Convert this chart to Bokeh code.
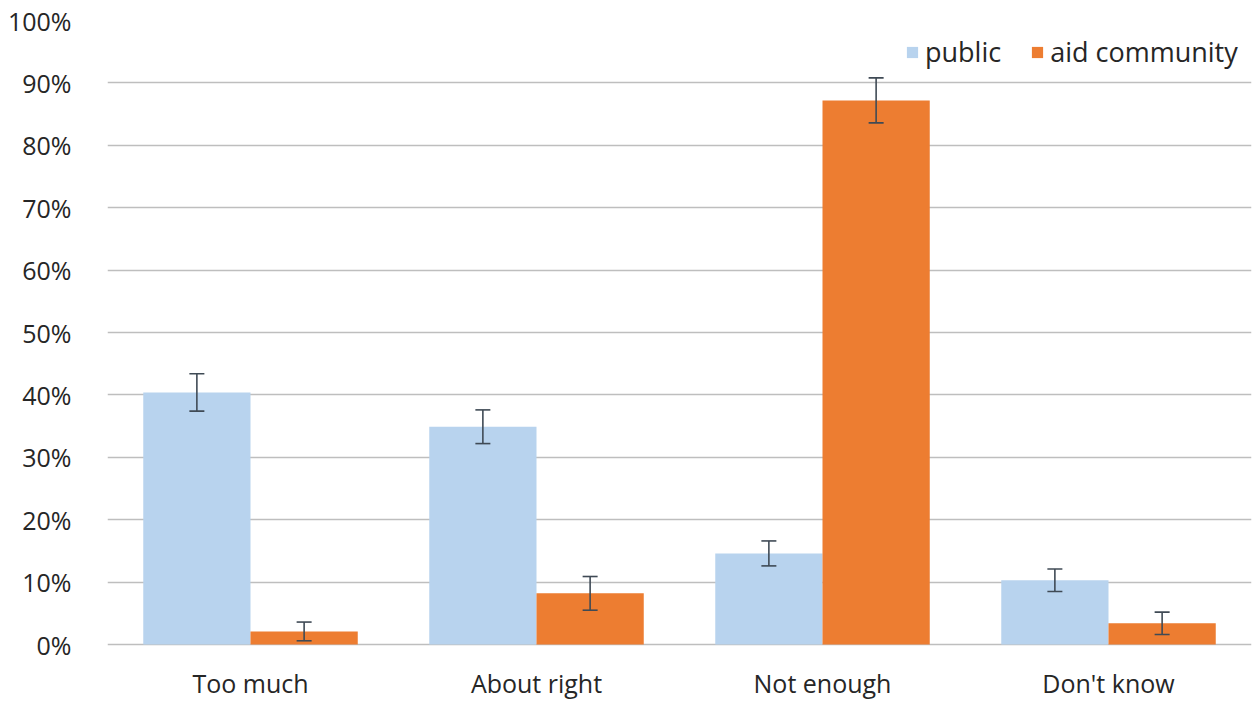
from bokeh.plotting import figure
from bokeh.models import ColumnDataSource, FactorRange, Range1d, Whisker, TeeHead, PrintfTickFormatter, FixedTicker, LabelSet
from bokeh.core.properties import value
from bokeh.transform import dodge
from bokeh.embed import file_html
from bokeh.resources import INLINE

categories = ["Too much", "About right", "Not enough", "Don't know"]
public = [40.4, 34.9, 14.6, 10.3]
public_err = [3.0, 2.7, 2.0, 1.8]
aid = [2.1, 8.2, 87.2, 3.4]
aid_err = [1.5, 2.7, 3.6, 1.8]
yticks = [0, 10, 20, 30, 40, 50, 60, 70, 80, 90, 100]

FONT = "Open Sans"
TXT = "#262626"
BLUE = "#B8D3EE"
ORANGE = "#ED7D31"
ERR = "#3F4A55"
Y_MIN = -8.97
LABEL_Y = -6.1

src = ColumnDataSource(dict(
    cat=categories,
    public=public,
    aid=aid,
    pub_lo=[v - e for v, e in zip(public, public_err)],
    pub_hi=[v + e for v, e in zip(public, public_err)],
    aid_lo=[v - e for v, e in zip(aid, aid_err)],
    aid_hi=[v + e for v, e in zip(aid, aid_err)],
    label_y=[LABEL_Y] * len(categories),
))

p = figure(x_range=FactorRange(*categories), y_range=Range1d(Y_MIN, 100),
           width=1252, height=700, output_backend="svg", toolbar_location=None,
           x_axis_location=None,
           min_border_left=107, min_border_right=1, min_border_top=20, min_border_bottom=0)
p.outline_line_color = None

w = 0.375
p.vbar(x=dodge("cat", -w / 2, range=p.x_range), top="public", width=w, source=src,
       fill_color=BLUE, line_color=None, legend_label="public")
p.vbar(x=dodge("cat", w / 2, range=p.x_range), top="aid", width=w, source=src,
       fill_color=ORANGE, line_color=None, legend_label="aid community")

for base, lo, hi in [(-w / 2, "pub_lo", "pub_hi"), (w / 2, "aid_lo", "aid_hi")]:
    wh = Whisker(base=dodge("cat", base, range=p.x_range), lower=lo, upper=hi, source=src,
                 line_color=ERR, line_width=1.6, level="overlay",
                 upper_head=TeeHead(size=15, line_color=ERR, line_width=1.6),
                 lower_head=TeeHead(size=15, line_color=ERR, line_width=1.6))
    p.add_layout(wh)

labels = LabelSet(x="cat", y="label_y", text="cat", source=src, text_align="center",
                  text_baseline="middle", text_font=value(FONT), text_font_size=value("25px"),
                  text_color=TXT)
p.add_layout(labels)

p.xgrid.grid_line_color = None
p.ygrid.grid_line_color = "#BEBEBE"
p.ygrid.grid_line_width = 1.5
p.yaxis.ticker = FixedTicker(ticks=yticks)
p.yaxis.formatter = PrintfTickFormatter(format="%d%%")
ax = p.yaxis[0]
ax.axis_line_color = None
ax.major_tick_line_color = None
ax.minor_tick_line_color = None
ax.major_label_text_font = FONT
ax.major_label_text_font_size = "25px"
ax.major_label_text_color = TXT
ax.major_label_standoff = 30

lg = p.legend[0]
lg.location = (798, 630)
lg.orientation = "horizontal"
lg.border_line_color = None
lg.background_fill_alpha = 0
lg.label_text_font = FONT
lg.label_text_font_size = "27px"
lg.label_text_color = TXT
lg.glyph_width = 14
lg.glyph_height = 14
lg.spacing = 29
lg.label_standoff = 6
lg.margin = 0
lg.padding = 4

open("out.html", "w").write(file_html(p, INLINE))
